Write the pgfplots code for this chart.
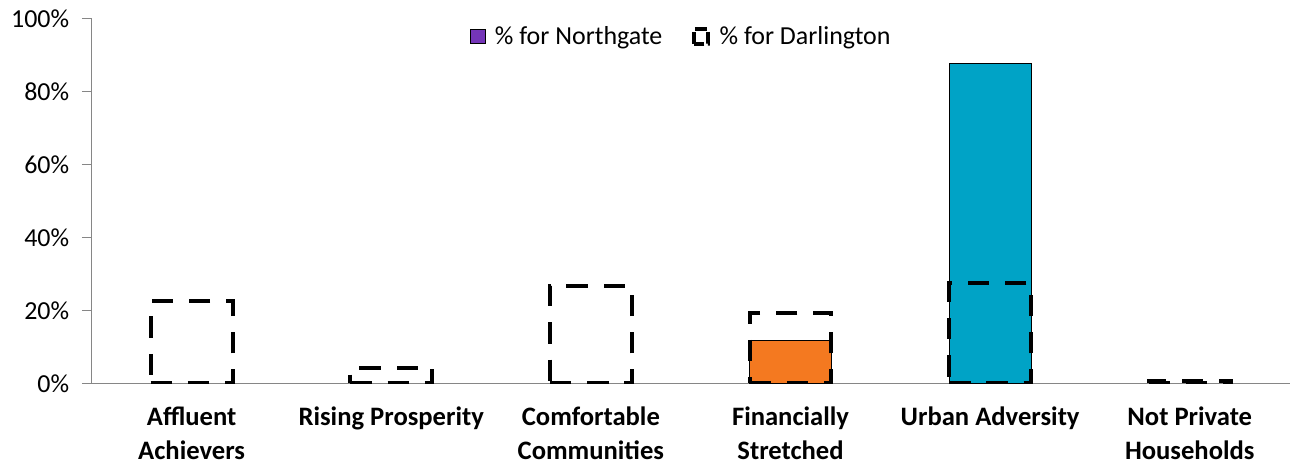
\documentclass[border=0pt]{standalone}
\usepackage{pgfplots}
\pgfplotsset{compat=1.18}
\usepackage{fontspec}
\setmainfont{Carlito}
\definecolor{ngpurple}{HTML}{7435B8}
\definecolor{fsorange}{HTML}{F47920}
\definecolor{uablue}{HTML}{00A3C6}
\definecolor{axgray}{HTML}{868686}

\begin{document}
\begin{tikzpicture}
\begin{axis}[
    scale only axis,
    width=900pt, height=273.75pt,
    xmin=-0.5, xmax=5.5,
    ymin=0, ymax=100,
    axis lines*=left,
    axis line style={axgray, line width=0.8pt},
    ybar, bar width=0.41, bar shift=0pt,
    xtick={0,1,2,3,4,5},
    xticklabels={Affluent\\Achievers, Rising Prosperity, Comfortable\\Communities, Financially\\Stretched, Urban Adversity, Not Private\\Households},
    xticklabel style={align=center, font=\bfseries\fontsize{20pt}{25pt}\selectfont, yshift=-7pt},
    major x tick style={draw=none},
    extra x ticks={-0.5,0.5,1.5,2.5,3.5,4.5,5.5},
    extra x tick labels={},
    extra x tick style={tick style={draw=axgray, line width=0.8pt}, major tick length=5pt, tick align=outside},
    ytick={0,20,40,60,80,100},
    yticklabel={\pgfmathprintnumber{\tick}\%},
    /pgf/number format/assume math mode=true,
    ytick style={draw=axgray, line width=0.8pt},
    tick align=outside,
    major tick length=7.5pt,
    yticklabel style={font=\fontsize{19.5pt}{23pt}\selectfont, xshift=-6pt},
    legend style={at={(0.4925,0.995)}, anchor=north, draw=none, legend columns=2,
        font=\fontsize{19.5pt}{23pt}\selectfont,
        /tikz/every odd column/.append style={column sep=5pt},
        /tikz/every even column/.append style={column sep=20pt}},
    legend image code/.code={\draw[#1] (0pt,-5.5pt) rectangle (11pt,5.5pt);},
]
\addlegendimage{fill=ngpurple, draw=black, line width=0.6pt}
\addlegendentry{\% for Northgate}
\addlegendimage{draw=black, line width=3pt, dash pattern=on 9pt off 3pt}
\addlegendentry{\% for Darlington}

% Northgate
\addplot[fill=fsorange, draw=black, line width=0.6pt, forget plot] coordinates {(3,11.8)};
\addplot[fill=uablue, draw=black, line width=0.6pt, forget plot] coordinates {(4,87.7)};

% Darlington
\addplot[fill=none, draw=black, line width=3pt, dash pattern=on 16pt off 12pt, forget plot]
  coordinates {(0,22.5) (1,4.3) (2,26.8) (3,19.3) (4,27.4) (5,0.6)};
\end{axis}
\path (-69pt,-60.75pt) rectangle (901.5pt,288pt);
\end{tikzpicture}
\end{document}
